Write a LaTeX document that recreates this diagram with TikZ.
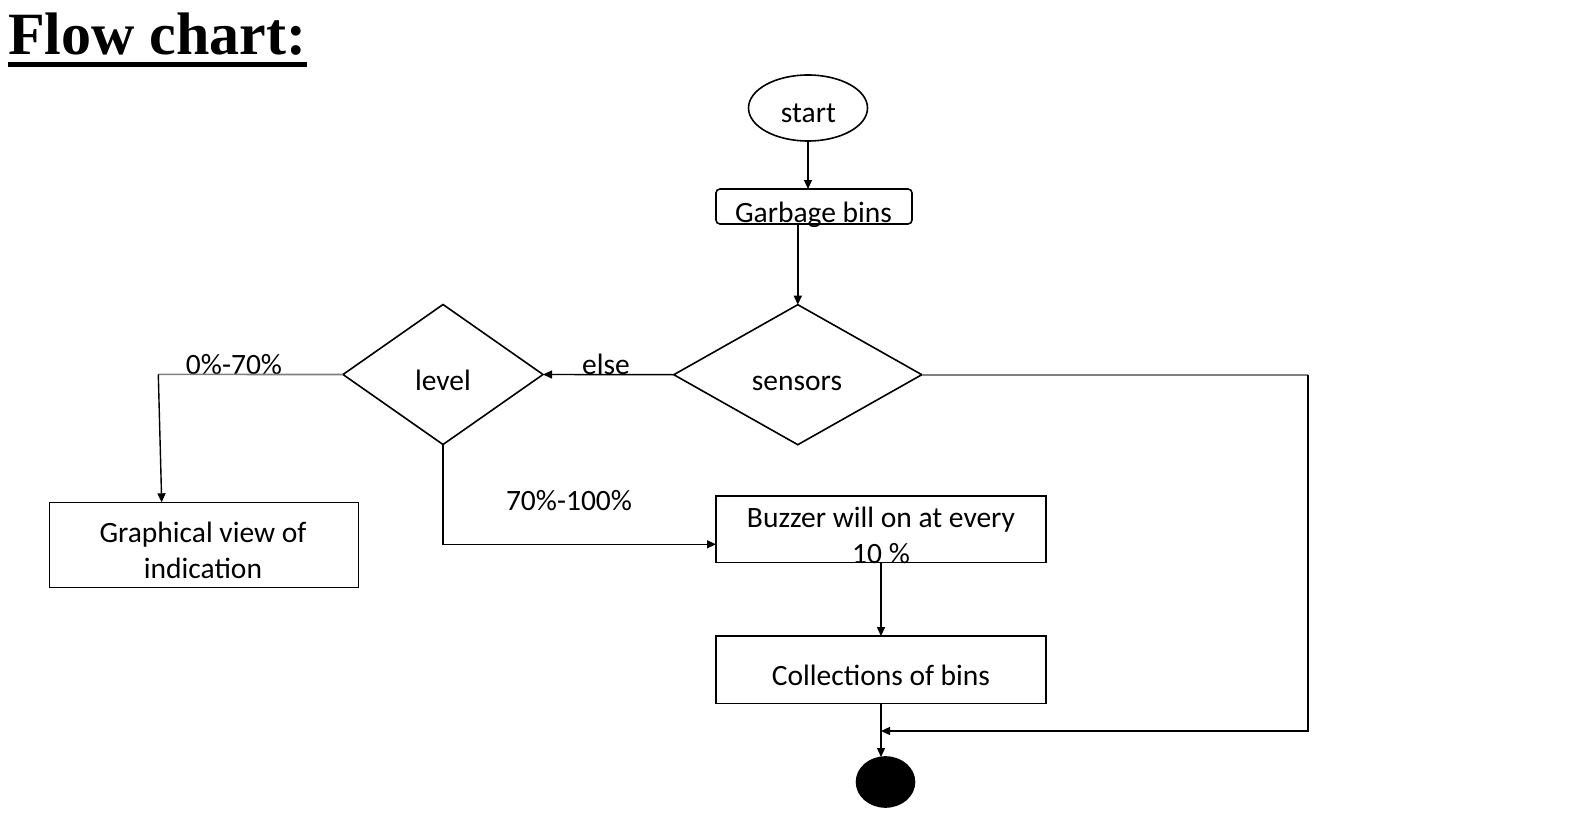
\documentclass[tikz,border=0pt]{standalone}
\usepackage{fontspec}
\setmainfont{Carlito}
\newfontfamily\titlefont{Liberation Serif}
\usetikzlibrary{shapes.geometric,arrows.meta}
\begin{document}
\begin{tikzpicture}[x=1pt,y=-1pt,
  shp/.style={draw=black,line width=1.6pt,inner sep=0pt,outer sep=0pt},
  box/.style={shp,rectangle},
  dia/.style={shp,diamond},
  txt/.style={anchor=base,inner sep=0pt,font=\fontsize{29.5}{35.5}\selectfont,align=center},
  con/.style={line width=1.4pt,draw=black},
  arr/.style={con,-{Triangle[length=9pt,width=8pt]}},
  gcon/.style={line width=1.6pt,draw=black!50}
]
\useasboundingbox (0,0) rectangle (1596,824);

% title
\node[anchor=base west,inner sep=0pt,font=\titlefont\bfseries\fontsize{60}{60}\selectfont] (title) at (8,55) {Flow chart:};
\fill[black] (8,62) rectangle (307,67);

% shapes
\node[shp,ellipse,minimum width=119pt,minimum height=66pt] (start) at (808,108) {};
\node[box,rounded corners=4pt,minimum width=196pt,minimum height=35pt] (garb) at (814,206.5) {};
\node[dia,minimum width=248pt,minimum height=140pt] (sens) at (797.8,374.7) {};
\node[dia,minimum width=200pt,minimum height=140pt] (lev) at (443,374.5) {};
\node[box,minimum width=309pt,minimum height=85pt] (graph) at (203.8,544.8) {};
\node[box,minimum width=330pt,minimum height=66.7pt] (buzz) at (881,529.3) {};
\node[box,minimum width=330pt,minimum height=67.3pt] (coll) at (881,669.7) {};
\node[shp,ellipse,fill=black,minimum width=58pt,minimum height=50pt] (stop) at (885.5,782) {};

% texts (base anchor of a two-line node is the last line's baseline)
\node[txt] (tstart) at (808.5,123) {start};
\node[txt] (tgarb) at (813.5,222) {Garbage bins};
\node[txt] (tsens) at (797,390) {sensors};
\node[txt] (tlev) at (443,390) {level};
\node[txt] (tgraph) at (203,578.3) {Graphical view of\\indication};
\node[txt] (tbuzz) at (881,563) {Buzzer will on at every\\10 \%};
\node[txt] (tcoll) at (881,685) {Collections of bins};
\node[txt] (l1) at (234,374.3) {0\%-70\%};
\node[txt] (l2) at (606,374) {else};
\node[txt] (l3) at (569,510.7) {70\%-100\%};

% connectors
\draw[arr] (start.south) -- (start.south |- garb.north);
\draw[arr] (sens.north |- garb.south) -- (sens.north);
\draw[arr] (sens.west) -- (lev.east);
\coordinate (rt) at (1308,374.7);
\coordinate (rb) at (1308,731);
\draw[gcon] (sens.east) -- (rt);
\draw[arr] (rt) -- (rb) -- (rb -| coll.south);
\draw[arr] (coll.south) -- (coll.south |- stop.north);
\coordinate (lt) at (158.3,374.4);
\draw[gcon] (lev.west) -- (lt);
\draw[arr] (lt) -- ([xshift=112.4pt]graph.north west);
\draw[arr] (lev.south) |- ([yshift=-15pt]buzz.west);
\draw[arr] (buzz.south) -- (coll.north);
\end{tikzpicture}
\end{document}
